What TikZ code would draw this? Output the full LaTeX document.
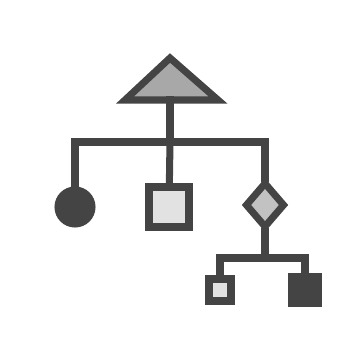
\documentclass[tikz,border=0pt]{standalone}
\usetikzlibrary{shapes.geometric,positioning}
\definecolor{iconink}{HTML}{444444}
\definecolor{iconfill}{HTML}{A8A8A8}
\definecolor{iconpale}{HTML}{E2E2E2}
\tikzset{
  treeline/.style={draw=iconink,line width=4pt,line cap=rect},
  leafcircle/.style={draw=iconink,circle,fill=iconink,line width=4pt,
    minimum size=34\pxu,inner sep=0pt},
  leafbox/.style={draw=iconink,rectangle,fill=iconpale,line width=4pt,
    minimum size=#1,inner sep=0pt},
  leafdark/.style={draw=iconink,rectangle,fill=iconink,line width=4pt,
    minimum size=#1,inner sep=0pt},
  branchdiamond/.style={draw=iconink,diamond,fill=iconfill!70,line width=4pt,
    minimum width=40\pxu,minimum height=46\pxu,inner sep=0pt},
}
\newlength{\pxu}\setlength{\pxu}{0.2mm}
\begin{document}
\begin{tikzpicture}[x=0.2mm,y=-0.2mm]
        \path[use as bounding box] (0,0) rectangle (363,343);
        % top triangle
        \coordinate (apex) at (170,58);
        \coordinate (baseL) at (125,100);
        \coordinate (baseR) at (218,100);
        \coordinate (rootbase) at (170,100);
        \draw[treeline,fill=iconfill,line join=miter] (apex) -- (baseR) -- (baseL) -- cycle;
        % first level
        \node[leafcircle] (leafA) at (75,207) {};
        \node[leafbox=40\pxu] (leafB) at (169,207) {};
        \node[branchdiamond] (branch) at (265,205) {};
        \coordinate (barL) at (75,142);
        \coordinate (barR) at (265,142);
        \draw[treeline] (rootbase) -- (170,142);
        \draw[treeline] (leafA) |- (barR) -- (branch);
        \draw[treeline] (170,142) -- (leafB);
        % second level
        \node[leafbox=22\pxu] (leafC) at (220,290) {};
        \node[leafdark=26\pxu] (leafD) at (305,290) {};
        \coordinate (subbar) at (265,258);
        \draw[treeline] (branch) -- (subbar);
        \draw[treeline] (leafC) |- (subbar) -| (leafD);
\end{tikzpicture}
\end{document}
